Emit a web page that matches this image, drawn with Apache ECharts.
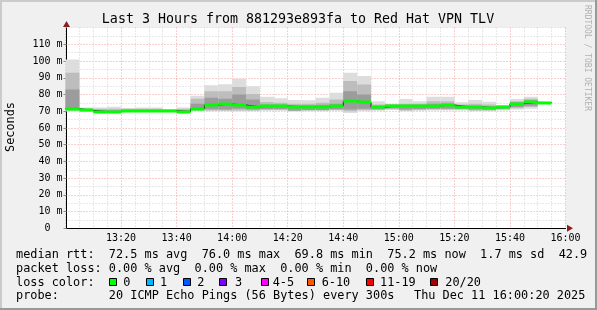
<!DOCTYPE html>
<html><head><meta charset="utf-8">
<script src="https://cdn.jsdelivr.net/npm/echarts@6/dist/echarts.min.js"></script>
<style>html,body{margin:0;padding:0;background:#f0f0f0}#c{width:597px;height:310px}</style>
</head><body><div id="c"></div>
<script>
// ---- data ----
const intervalStart = ['13:00','13:05','13:10','13:15','13:20','13:25','13:30','13:35','13:40','13:45',
  '13:50','13:55','14:00','14:05','14:10','14:15','14:20','14:25','14:30','14:35',
  '14:40','14:45','14:50','14:55','15:00','15:05','15:10','15:15','15:20','15:25',
  '15:30','15:35','15:40','15:45','15:50'];
const stepMinutes = 5;
const medianRtt = [71.5,70.5,69.8,69.8,70.3,70.3,70.3,70.3,69.8,71.5,
  73.7,74.3,73.7,72.7,73.1,73.1,72.7,72.5,72.7,73.1,
  76.0,75.3,72.3,73.3,73.1,73.1,73.3,73.7,72.7,72.5,
  72.1,72.3,74.5,75.3,75.2];
const smokeMin = [70.0,69.8,69.2,69.2,69.8,69.8,69.8,69.8,69.0,70.0,
  70.0,70.0,70.0,70.0,70.3,70.3,69.8,70.0,70.0,70.3,
  69.0,70.0,70.3,70.8,70.0,70.3,70.5,70.5,70.5,70.0,
  70.0,70.5,71.0,71.5,74.8];
const smokeMax = [101,72.3,72.3,72.7,72.0,72.3,72.3,71.3,72.3,79.3,
  85.6,86.2,89.4,85.0,78.7,77.7,76.7,76.5,78.0,81.0,
  93.0,91.0,76.0,74.3,77.3,76.0,78.7,78.7,75.3,76.7,
  75.7,73.7,77.3,78.7,75.5];
const smokeMidLo = [70.5,70.0,69.4,69.4,70.0,70.0,70.0,70.0,69.3,70.5,
  70.5,70.5,70.5,70.5,70.8,70.8,70.2,70.5,70.5,70.8,
  70.0,70.8,70.8,71.2,70.5,70.8,71.0,71.0,71.0,70.5,
  70.5,71.0,71.8,72.5,74.9];
const smokeMidHi = [93,71.8,71.5,71.5,71.5,71.5,71.5,71.0,71.5,77.5,
  82.0,82.0,84.5,80.3,75.5,75.0,74.5,74.5,75.0,77.0,
  88.0,86.0,74.0,74.0,74.5,74.5,76.0,76.0,74.0,74.5,
  74.0,73.2,76.0,77.5,75.4];
const smokeInLo = [71.0,70.2,69.6,69.6,70.1,70.1,70.1,70.1,69.5,71.0,
  71.2,71.0,71.5,71.0,71.3,71.3,70.5,70.8,70.8,71.2,
  71.0,71.5,71.2,71.8,71.0,71.3,71.5,71.5,71.5,71.0,
  71.0,71.5,72.5,73.3,75.0];
const smokeInHi = [83,71.0,70.6,70.6,70.8,70.8,70.8,70.6,70.6,74.5,
  78.0,77.5,80.0,77.0,74.0,74.0,73.5,73.5,73.8,74.5,
  82.0,80.0,73.2,73.8,73.8,73.8,74.5,74.5,73.5,73.3,
  73.0,72.8,75.3,76.5,75.3];
const xTickLabels = ['13:00','13:20','13:40','14:00','14:20','14:40','15:00','15:20','15:40','16:00'];
const yTickLabels = ['0  ','10 m','20 m','30 m','40 m','50 m','60 m','70 m','80 m','90 m','100 m','110 m',''];
const titleText = 'Last 3 Hours from 881293e893fa to Red Hat VPN TLV';
const legendRows = [
  'median rtt:  72.5 ms avg  76.0 ms max  69.8 ms min  75.2 ms now  1.7 ms sd  42.9',
  'packet loss: 0.00 % avg  0.00 % max  0.00 % min  0.00 % now',
  'loss color:',
  'probe:       20 ICMP Echo Pings (56 Bytes) every 300s'
];
const lossLabels = ['0','1','2','3','4-5','6-10','11-19','20/20'];
const lossColors = ['#00ff00','#00b8ff','#0059ff','#7e00ff','#ff00ff','#ff5500','#ff0000','#a10000'];
const probeDate = 'Thu Dec 11 16:00:20 2025';

// ---- build ----
const toMin = s => { const p = s.split(':'); return (+p[0] - 13) * 60 + (+p[1]); };
const smokeData = intervalStart.map((s, i) => [toMin(s), toMin(s) + stepMinutes,
  smokeMin[i], smokeMax[i], smokeMidLo[i], smokeMidHi[i], smokeInLo[i], smokeInHi[i]]);
const medData = intervalStart.map((s, i) => [toMin(s), toMin(s) + stepMinutes, medianRtt[i]]);
const medStep = intervalStart.map((s, i) => [toMin(s), medianRtt[i]]);
medStep.push([toMin(intervalStart[intervalStart.length - 1]) + stepMinutes, medianRtt[medianRtt.length - 1]]);

const MONO = '"DejaVu Sans Mono", monospace';
const layers = [[2, 3, '#dddddd'], [4, 5, '#bdbdbd'], [6, 7, '#9c9c9c']];
function renderSmoke(params, api) {
  const t0 = api.value(0), t1 = api.value(1);
  const children = layers.map(([a, b, c]) => {
    const p0 = api.coord([t0, api.value(b)]);
    const p1 = api.coord([t1, api.value(a)]);
    return { type: 'rect', shape: { x: p0[0], y: p0[1], width: p1[0] - p0[0], height: p1[1] - p0[1] }, style: { fill: c } };
  });
  return { type: 'group', children };
}
function renderMedian(params, api) {
  const p0 = api.coord([api.value(0), api.value(2)]);
  const p1 = api.coord([api.value(1), api.value(2)]);
  const yc = Math.round(p0[1]);
  return { type: 'rect', shape: { x: p0[0], y: yc - 1.5, width: p1[0] - p0[0], height: 3 }, style: { fill: lossColors[0] } };
}

const graphics = [];
// frame
graphics.push({ type: 'rect', shape: { x: 0, y: 0, width: 597, height: 2 }, style: { fill: '#cbcbcb' }, silent: true });
graphics.push({ type: 'rect', shape: { x: 0, y: 0, width: 2, height: 310 }, style: { fill: '#cbcbcb' }, silent: true });
graphics.push({ type: 'rect', shape: { x: 0, y: 308, width: 597, height: 2 }, style: { fill: '#999999' }, silent: true });
graphics.push({ type: 'rect', shape: { x: 595, y: 0, width: 2, height: 310 }, style: { fill: '#999999' }, silent: true });
// title
graphics.push({ type: 'text', x: 298, y: 20, style: { text: titleText, font: '13.3px ' + MONO, fill: '#000', align: 'center', verticalAlign: 'middle' } });
// y axis name
graphics.push({ type: 'text', x: 11, y: 127, rotation: Math.PI / 2, style: { text: 'Seconds', font: '11.86px ' + MONO, fill: '#000', align: 'center', verticalAlign: 'middle' } });
// watermark
graphics.push({ type: 'text', x: 587, y: 58, rotation: -Math.PI / 2, style: { text: 'RRDTOOL / TOBI OETIKER', font: '8px ' + MONO, fill: '#b0b0b0', align: 'center', verticalAlign: 'middle' } });
// arrows
graphics.push({ type: 'polygon', shape: { points: [[66.5, 21], [63, 27], [70, 27]] }, style: { fill: '#8b1e1e' } });
graphics.push({ type: 'polygon', shape: { points: [[573, 228.3], [567, 224.8], [567, 231.8]] }, style: { fill: '#8b1e1e' } });
// legend rows
const rowY = [254.6, 268.6, 282.6, 296.4];
legendRows.forEach((t, i) => graphics.push({ type: 'text', x: 16, y: rowY[i], style: { text: t, font: '11.86px ' + MONO, fill: '#000', align: 'left', verticalAlign: 'middle' } }));
graphics.push({ type: 'text', x: 414, y: rowY[3], style: { text: probeDate, font: '11.86px ' + MONO, fill: '#000', align: 'left', verticalAlign: 'middle' } });
const boxX = [108.7, 145.7, 182.7, 219.3, 260.7, 307.3, 366, 430];
const textX = [123.3, 160, 197.3, 235, 272.7, 321.7, 380, 445.3];
lossLabels.forEach((l, i) => {
  graphics.push({ type: 'rect', shape: { x: Math.round(boxX[i]) + 0.5, y: 278.5, width: 7, height: 7 }, style: { fill: lossColors[i], stroke: '#000', lineWidth: 1 } });
  graphics.push({ type: 'text', x: textX[i], y: rowY[2], style: { text: l, font: '11.86px ' + MONO, fill: '#000', align: 'left', verticalAlign: 'middle' } });
});

const chart = echarts.init(document.getElementById('c'), null, { renderer: 'canvas' });
chart.setOption({
  animation: false,
  backgroundColor: '#f0f0f0',
  grid: { left: 65.5, top: 27.6, width: 500, height: 200.7, show: true, backgroundColor: '#ffffff', borderWidth: 0 },
  xAxis: {
    type: 'value', min: 0, max: 180, interval: 20,
    axisLine: { show: true, lineStyle: { color: '#000', width: 1 } },
    axisTick: { show: false },
    axisLabel: { margin: 5, showMinLabel: false, color: '#000', fontFamily: 'DejaVu Sans Mono', fontSize: 10,
      formatter: v => xTickLabels[Math.round(v / 20)] },
    splitLine: { show: true, lineStyle: { color: '#f2a0a0', type: [1, 2], width: 1 } },
    minorTick: { show: false, splitNumber: 4 },
    minorSplitLine: { show: true, lineStyle: { color: '#d2d2d2', type: [1, 2], width: 1 } }
  },
  yAxis: {
    type: 'value', min: 0, max: 120, interval: 10, offset: -1,
    axisLine: { show: true, lineStyle: { color: '#000', width: 1 } },
    axisTick: { show: true, length: 3, lineStyle: { color: '#888' } },
    axisLabel: { margin: 4, showMaxLabel: false, fontFamily: 'DejaVu Sans Mono', fontSize: 10, color: '#000',
      formatter: v => yTickLabels[Math.round(v / 10)] },
    splitLine: { show: true, showMaxLine: false, lineStyle: { color: '#f2a0a0', type: [1, 2], width: 1 } },
    minorTick: { show: false, splitNumber: 2 },
    minorSplitLine: { show: true, lineStyle: { color: '#d2d2d2', type: [1, 2], width: 1 } }
  },
  series: [
    { type: 'custom', name: 'smoke', z: 2, renderItem: renderSmoke, data: smokeData, encode: { x: [0, 1], y: [2, 3, 4, 5, 6, 7] }, silent: true, clip: true,
      markLine: { silent: true, symbol: 'none', label: { show: false }, lineStyle: { color: '#d2d2d2', type: [1, 2], width: 1 }, data: [{ yAxis: 120 }] } },
    { type: 'line', name: 'median', z: 3, data: medStep, step: 'end', showSymbol: false, symbol: 'none', lineStyle: { color: '#202020', width: 1 }, silent: true },
    { type: 'custom', name: 'loss', z: 4, renderItem: renderMedian, data: medData, encode: { x: [0, 1], y: 2 }, silent: true }
  ],
  graphic: graphics
});
</script>
</body></html>
